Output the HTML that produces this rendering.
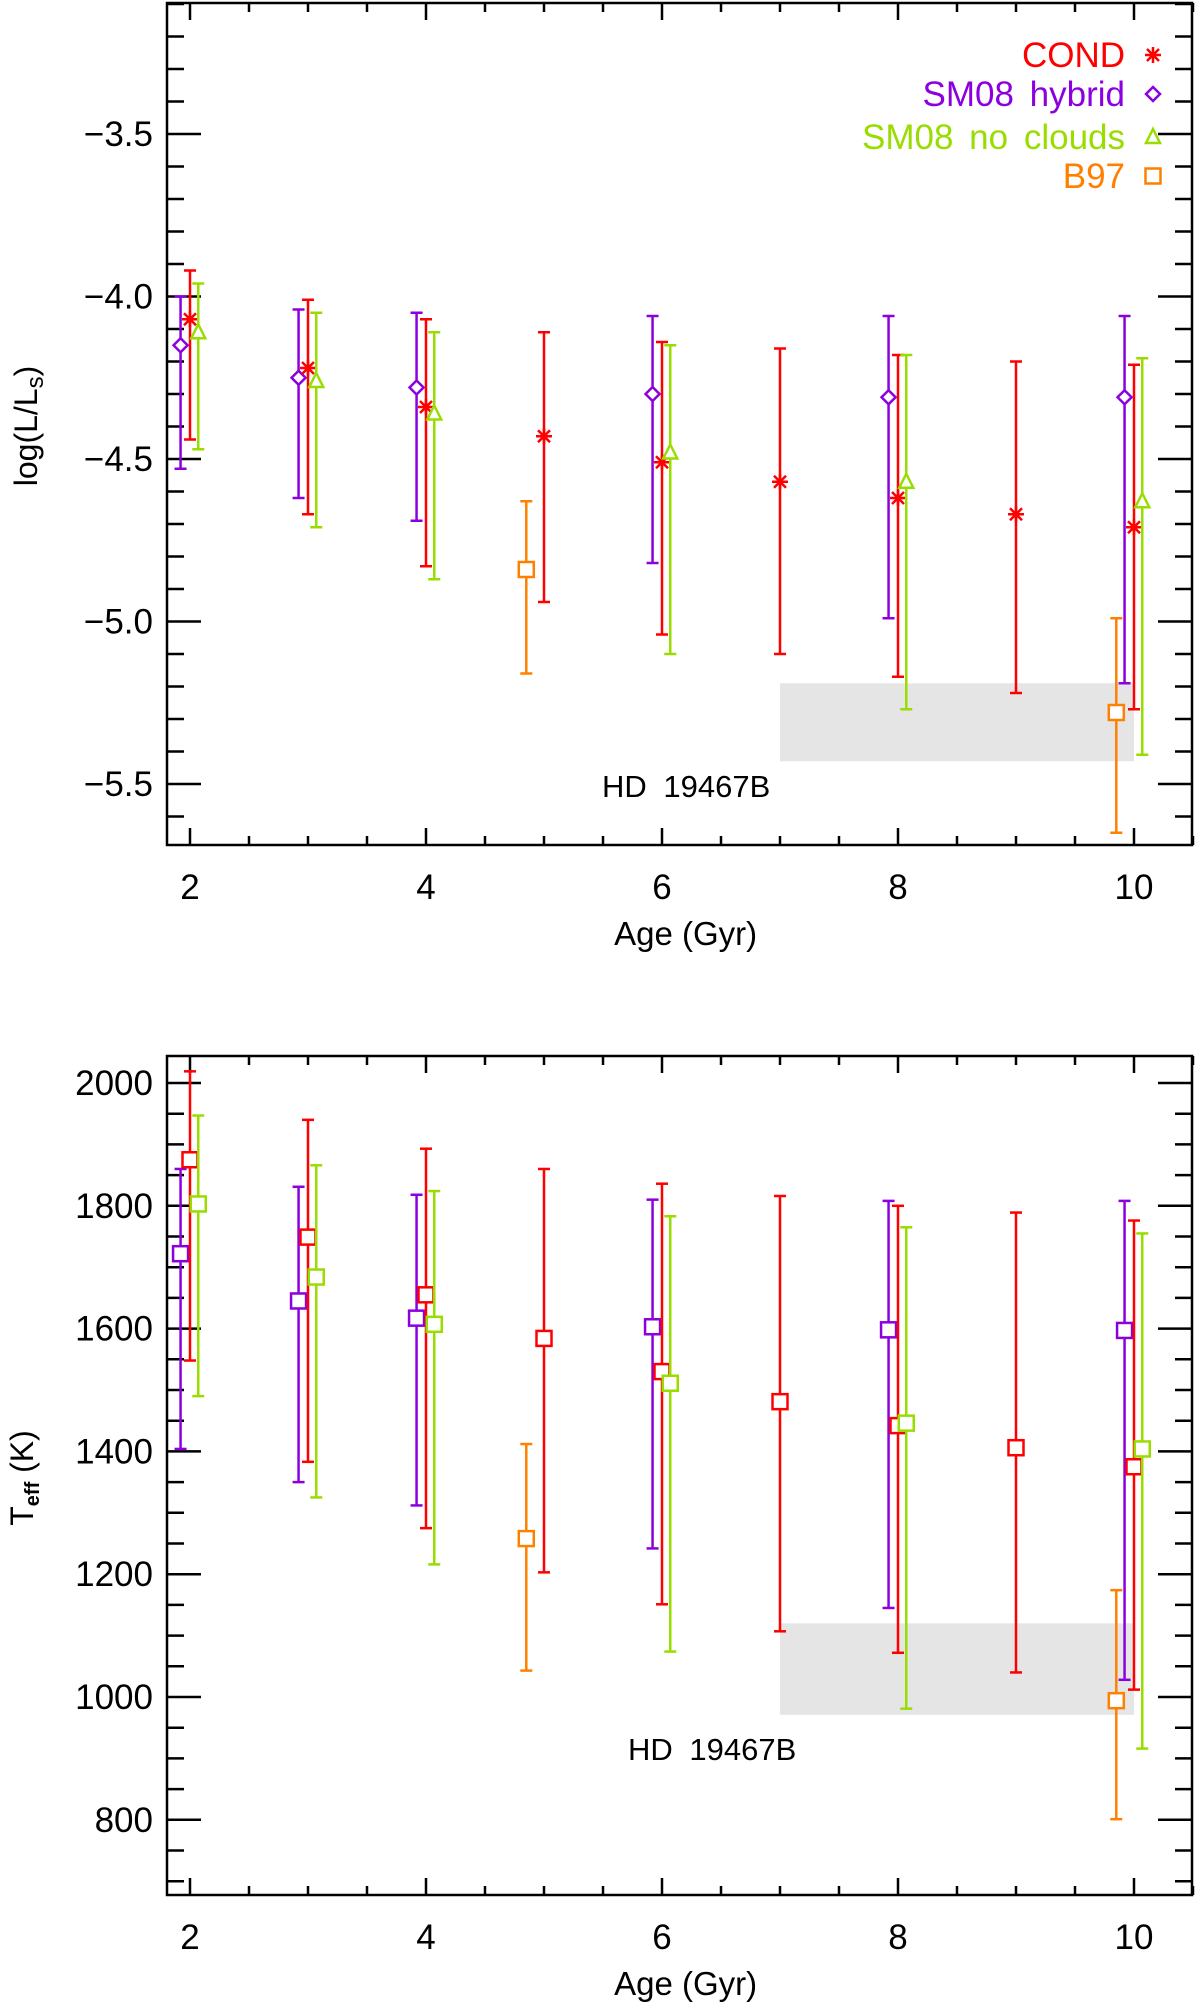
<!DOCTYPE html>
<html><head><meta charset="utf-8"><style>
html,body{margin:0;padding:0;background:#fff;}
svg{display:block;font-family:"Liberation Sans",sans-serif;}
</style></head><body>
<svg id="chart" width="1200" height="2007" viewBox="0 0 1200 2007" xmlns="http://www.w3.org/2000/svg"></svg>
<script>
// ---- data ----
const ages = [2,3,4,5,6,7,8,9,10];
const condL = [-4.07,-4.22,-4.34,-4.43,-4.51,-4.57,-4.62,-4.67,-4.71];
const condLhi = [-3.92,-4.01,-4.07,-4.11,-4.14,-4.16,-4.18,-4.20,-4.21];
const condLlo = [-4.44,-4.67,-4.83,-4.94,-5.04,-5.10,-5.17,-5.22,-5.27];
const smAges = [2,3,4,6,8,10];
const hybL = [-4.15,-4.25,-4.28,-4.30,-4.31,-4.31];
const hybLhi = [-4.00,-4.04,-4.05,-4.06,-4.06,-4.06];
const hybLlo = [-4.53,-4.62,-4.69,-4.82,-4.99,-5.19];
const ncL = [-4.11,-4.26,-4.36,-4.48,-4.57,-4.63];
const ncLhi = [-3.96,-4.05,-4.11,-4.15,-4.18,-4.19];
const ncLlo = [-4.47,-4.71,-4.87,-5.10,-5.27,-5.41];
const b97Ages = [5,10];
const b97L = [-4.84,-5.28];
const b97Lhi = [-4.63,-4.99];
const b97Llo = [-5.16,-5.65];
const condT = [1875,1749,1655,1584,1530,1481,1442,1406,1375];
const condThi = [2019,1940,1893,1860,1836,1816,1800,1789,1776];
const condTlo = [1548,1383,1275,1203,1151,1107,1072,1040,1012];
const hybT = [1722,1645,1617,1603,1598,1597];
const hybThi = [1860,1831,1818,1810,1808,1808];
const hybTlo = [1404,1350,1312,1242,1145,1028];
const ncT = [1803,1684,1607,1511,1446,1404];
const ncThi = [1947,1866,1824,1783,1765,1755];
const ncTlo = [1490,1325,1216,1074,981,916];
const b97T = [1258,994];
const b97Thi = [1412,1174];
const b97Tlo = [1043,801];
const objL = [-5.19,-5.43];
const objT = [1120,971];
const objAge = [7,10];
const xTicks = [2,4,6,8,10];
const yTicksL = [-3.5,-4.0,-4.5,-5.0,-5.5];
const yTicksT = [800,1000,1200,1400,1600,1800,2000];

const NS="http://www.w3.org/2000/svg";
const svg=document.getElementById('chart');
function mk(tag,attrs,parent){const e=document.createElementNS(NS,tag);for(const k in attrs)e.setAttribute(k,attrs[k]);(parent||svg).appendChild(e);return e;}
const RED="#ff0000",PUR="#8c00e0",GRN="#99dd00",ORA="#ff8000";
const L=167,R=1192;
const xs=a=>190+(a-2)*118;

const yL=v=>134+(-3.5-v)*325;
const yT=v=>1083+(2000-v)*0.614;

function drawPanel(g,top,bot,ymap,ymin,ymax,minorStep,majorVals,labels,boxVals,txtX,txtY){
  const bx=mk('rect',{x:xs(objAge[0]),y:ymap(boxVals[0]),width:xs(objAge[1])-xs(objAge[0]),height:ymap(boxVals[1])-ymap(boxVals[0]),fill:"#e5e5e5"},g);
  
  
  const t=mk('text',{x:txtX,y:txtY,'font-size':31,fill:'#000','word-spacing':'8'},g);
  t.textContent="HD 19467B";
  
  
  const tk=mk('g',{stroke:'#000','stroke-width':2.5},g);
  
  
  for(let a=2;a<=10.5001;a+=0.5){
    const maj=Math.abs(a-Math.round(a/2)*2)<1e-6;
    const len=maj?17:9;
    mk('line',{x1:xs(a),x2:xs(a),y1:bot,y2:bot-len},tk);
    mk('line',{x1:xs(a),x2:xs(a),y1:top,y2:top+len},tk);
  }
  const n=Math.round((ymax-ymin)/minorStep);
  for(let i=0;i<=n;i++){
    const v=ymin+i*minorStep;const y=ymap(v);
    if(y<top||y>bot)continue;
    const maj=majorVals.some(m=>Math.abs(m-v)<1e-6);
    const len=maj?34:17;
    mk('line',{x1:L,x2:L+len,y1:y,y2:y},tk);
    mk('line',{x1:R,x2:R-len,y1:y,y2:y},tk);
  }
  const fr=mk('rect',{x:L,y:top,width:R-L,height:bot-top,fill:'none',stroke:'#000','stroke-width':2.5},g);
  
  
  xTicks.forEach(a=>{
    const e=mk('text',{x:xs(a),y:bot+54,'font-size':35,'text-anchor':'middle'},g);
    e.textContent=String(a);
    
    
  });
  majorVals.forEach((v,i)=>{
    const e=mk('text',{x:153,y:ymap(v)+12,'font-size':35,'text-anchor':'end'},g);
    e.textContent=labels[i];
    
    
  });
  const xt=mk('text',{x:(xs(6.2)),y:bot+100,'font-size':33,'text-anchor':'middle'},g);
  xt.textContent="Age (Gyr)";
  
  
}

function errbar(g,x,ylo,yhi,color){
  mk('line',{x1:x,x2:x,y1:ylo,y2:yhi,stroke:color,'stroke-width':2.5},g);
  mk('line',{x1:x-6,x2:x+6,y1:ylo,y2:ylo,stroke:color,'stroke-width':2.5},g);
  mk('line',{x1:x-6,x2:x+6,y1:yhi,y2:yhi,stroke:color,'stroke-width':2.5},g);
}
function marker(g,type,x,y,color){
  if(type==='star'){
    const s=8;
    mk('path',{d:`M${x-s} ${y}H${x+s}M${x} ${y-s}V${y+s}M${x-6} ${y-6}L${x+6} ${y+6}M${x-6} ${y+6}L${x+6} ${y-6}`,stroke:color,'stroke-width':2.5,fill:'none'},g);
  }else if(type==='diamond'){
    const s=7;
    mk('path',{d:`M${x} ${y-s}L${x+s} ${y}L${x} ${y+s}L${x-s} ${y}Z`,stroke:color,'stroke-width':2.5,fill:'#fff'},g);
  }else if(type==='tri'){
    mk('path',{d:`M${x} ${y-8}L${x+7} ${y+6}L${x-7} ${y+6}Z`,stroke:color,'stroke-width':2.5,fill:'#fff'},g);
  }else{
    mk('rect',{x:x-7.5,y:y-7.5,width:15,height:15,stroke:color,'stroke-width':2.5,fill:'#fff'},g);
  }
}
function series(parent,name,agesArr,off,vals,hi,lo,ymap,color,type){
  const g=mk('g',{},parent);
  
  
  agesArr.forEach((a,i)=>{
    const x=xs(a+off);
    errbar(g,x,ymap(lo[i]),ymap(hi[i]),color);
    marker(g,type,x,ymap(vals[i]),color);
  });
}

const gTop=mk('g',{});


drawPanel(gTop,3,845,yL,-5.7,-3.1,0.1,yTicksL,["\u22123.5","\u22124.0","\u22124.5","\u22125.0","\u22125.5"],objL,602,797);
series(gTop,'b97-luminosity',b97Ages,-0.15,b97L,b97Lhi,b97Llo,yL,ORA,'sq');
series(gTop,'sm08-hybrid-luminosity',smAges,-0.08,hybL,hybLhi,hybLlo,yL,PUR,'diamond');
series(gTop,'cond-luminosity',ages,0,condL,condLhi,condLlo,yL,RED,'star');
series(gTop,'sm08-noclouds-luminosity',smAges,0.07,ncL,ncLhi,ncLlo,yL,GRN,'tri');
const yt1=mk('text',{x:0,y:0,'font-size':32,'text-anchor':'middle',transform:'translate(37,426) rotate(-90)'},gTop);
yt1.innerHTML='log(L/L<tspan font-size="24" dy="6">s</tspan><tspan dy="-6">)</tspan>';


const leg=mk('g',{},gTop);


[["COND",RED,'star',67],["SM08 hybrid",PUR,'diamond',106],["SM08 no clouds",GRN,'tri',149],["B97",ORA,'sq',188]].forEach(r=>{
  const e=mk('text',{x:1125,y:r[3],'font-size':35,fill:r[1],'text-anchor':'end','word-spacing':'6'},leg);
  e.textContent=r[0];
  
  
  marker(leg,r[2],1153,r[3]-12,r[1]);
});

const gBot=mk('g',{});


drawPanel(gBot,1056,1895,yT,650,2050,50,yTicksT,yTicksT.map(String),objT,628,1760);
series(gBot,'b97-teff',b97Ages,-0.15,b97T,b97Thi,b97Tlo,yT,ORA,'sq');
series(gBot,'sm08-hybrid-teff',smAges,-0.08,hybT,hybThi,hybTlo,yT,PUR,'sq');
series(gBot,'cond-teff',ages,0,condT,condThi,condTlo,yT,RED,'sq');
series(gBot,'sm08-noclouds-teff',smAges,0.07,ncT,ncThi,ncTlo,yT,GRN,'sq');
const yt2=mk('text',{x:0,y:0,'font-size':32,'text-anchor':'middle',transform:'translate(33,1478) rotate(-90)'},gBot);
yt2.innerHTML='T<tspan font-size="20" font-weight="bold" dy="6">eff</tspan><tspan dy="-6"> (K)</tspan>';


</script>
</body></html>
